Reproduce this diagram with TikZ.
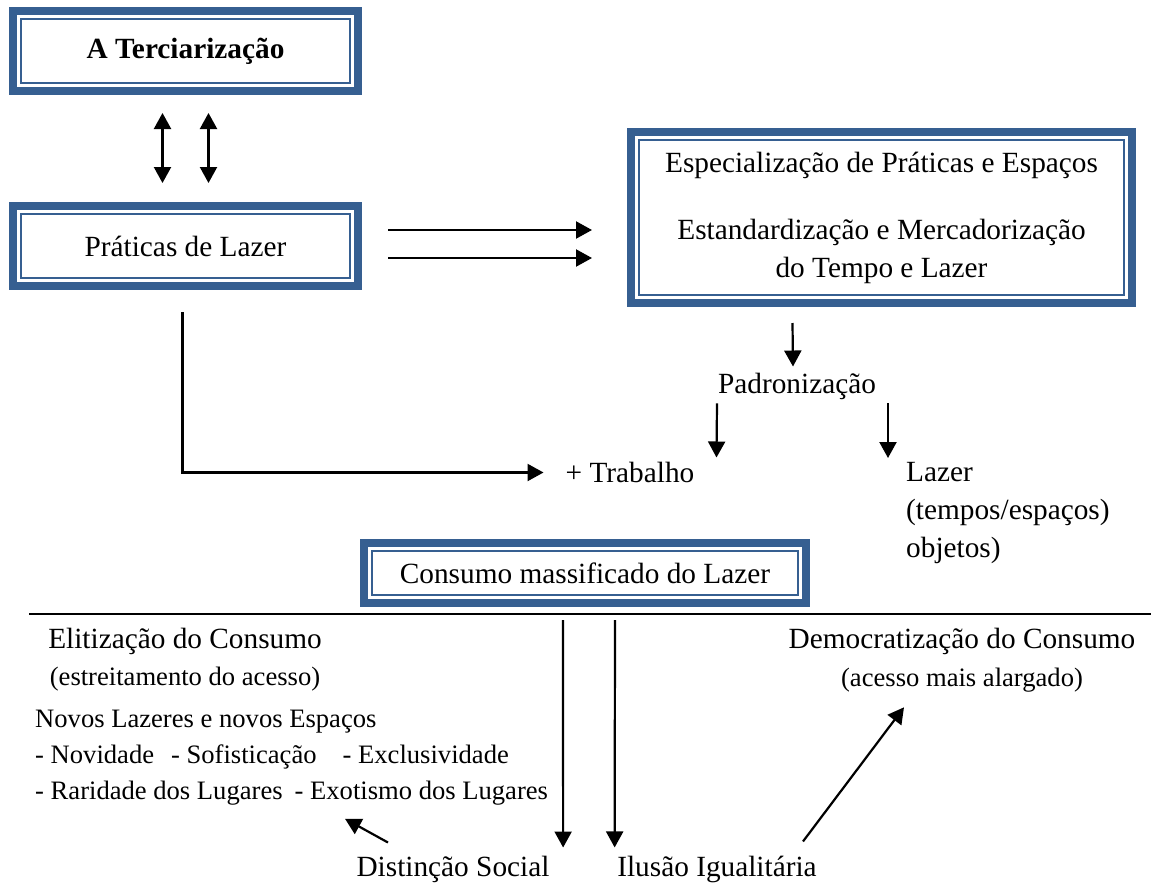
\documentclass[tikz,border=0pt]{standalone}
\usepackage{fontspec}
\setmainfont{Liberation Serif}
\usepackage{xcolor}
\usepackage{tikz}
\usetikzlibrary{arrows.meta,positioning,calc}
\definecolor{frameBlue}{RGB}{54,95,145}
\newcommand{\mainsz}{\fontsize{29.3}{38}\selectfont}
\newcommand{\subsz}{\fontsize{26.6}{36}\selectfont}

\begin{document}
\begin{tikzpicture}[
  x=1pt,y=-1pt,
  >={Triangle[length=16pt,width=17pt]},
  dbox/.style 2 args={rectangle,draw=frameBlue,line width=8pt,fill=white,
              minimum width=#1,minimum height=#2,inner sep=0pt,outer sep=0pt,
              align=center,font=\mainsz,
              path picture={\draw[frameBlue,line width=1.8pt]
                ([shift={(8pt,-8pt)}]path picture bounding box.north west) rectangle
                ([shift={(-8pt,8pt)}]path picture bounding box.south east);}},
  txt/.style={inner sep=0pt,font=\mainsz},
  stxt/.style={inner sep=0pt,font=\subsz},
  arr/.style={->,line width=2.2pt}
]
\useasboundingbox (0,0) rectangle (1151,883);

% Framed boxes
\node[dbox={345pt}{80pt},font=\mainsz\bfseries] (terc) at (185.5,51) {A Terciarização};
\node[dbox={345pt}{80pt}] (prat) at (185.5,246) {Práticas de Lazer};
\node[dbox={501pt}{171pt}] (espec) at (881.5,217.5)
  {Especialização de Práticas e Espaços\\[29pt]Estandardização e Mercadorização\\do Tempo e Lazer};
\node[dbox={442pt}{60pt}] (cons) at (585,573) {Consumo massificado do Lazer};

% Plain labels
\node[txt] (padr) at (797,386) {Padronização};
\node[txt] (trab) at (630,472.5) {+ Trabalho};
\node[txt,align=left,anchor=north west] (lazer) at (906,462)
  {Lazer\\(tempos/espaços)\\objetos)};
\node[txt] (elit) at (185,641) {Elitização do Consumo};
\node[stxt] (elitsub) at (185,679) {(estreitamento do acesso)};
\node[txt] (demo) at (962,641) {Democratização do Consumo};
\node[stxt] (demosub) at (962,680) {(acesso mais alargado)};
\node[stxt,align=left,anchor=west] (novos) at (35,758)
  {Novos Lazeres e novos Espaços\\
   - Novidade\hspace{17pt}- Sofisticação\hspace{26pt}- Exclusividade\\
   - Raridade dos Lugares\hspace{12pt}- Exotismo dos Lugares};
\node[txt] (dist) at (453,869) {Distinção Social};
\node[txt] (ilus) at (717,869) {Ilusão Igualitária};

% Separator
\draw[line width=2.5pt] (29,614) -- (1151,614);

% Arrows top part
\foreach \dx in {-23,23}
  \draw[<->,line width=2.2pt] ([xshift=\dx pt,yshift=-22pt]terc.south) -- ([xshift=\dx pt,yshift=23pt]prat.north);
\foreach \a/\b in {16/-12.5,-12/-40.5}
  \draw[arr] ([xshift=30pt,yshift=\a pt]prat.east) -- ([xshift=-39pt,yshift=\b pt]espec.west);
\draw[arr] ([xshift=-89pt,yshift=-20pt]espec.south) -- ([xshift=-4pt,yshift=6pt]padr.north);
\draw[arr] ([xshift=-80pt,yshift=-4pt]padr.south) -- ([xshift=22pt,yshift=4.5pt]trab.north east);
\draw[arr] ([xshift=91pt,yshift=-4pt]padr.south) -- ([xshift=-18pt,yshift=4pt]lazer.north west);
\draw[arr] ([xshift=-3pt,yshift=-26pt]prat.south) |- ([xshift=-22pt]trab.west);

% Arrows bottom part
\draw[arr] ([xshift=-22pt,yshift=-17pt]cons.south) -- ([xshift=13.5pt,yshift=8pt]dist.north east);
\draw[arr] ([xshift=30pt,yshift=-17pt]cons.south) -- ([xshift=-2.5pt,yshift=8pt]ilus.north west);
\draw[arr] ([xshift=-65pt,yshift=13pt]dist.north) -- ([xshift=310pt,yshift=-13pt]novos.south west);
\draw[arr] ([xshift=86pt,yshift=14pt]ilus.north) -- ([xshift=-58pt,yshift=-15pt]demosub.south);
\end{tikzpicture}
\end{document}
